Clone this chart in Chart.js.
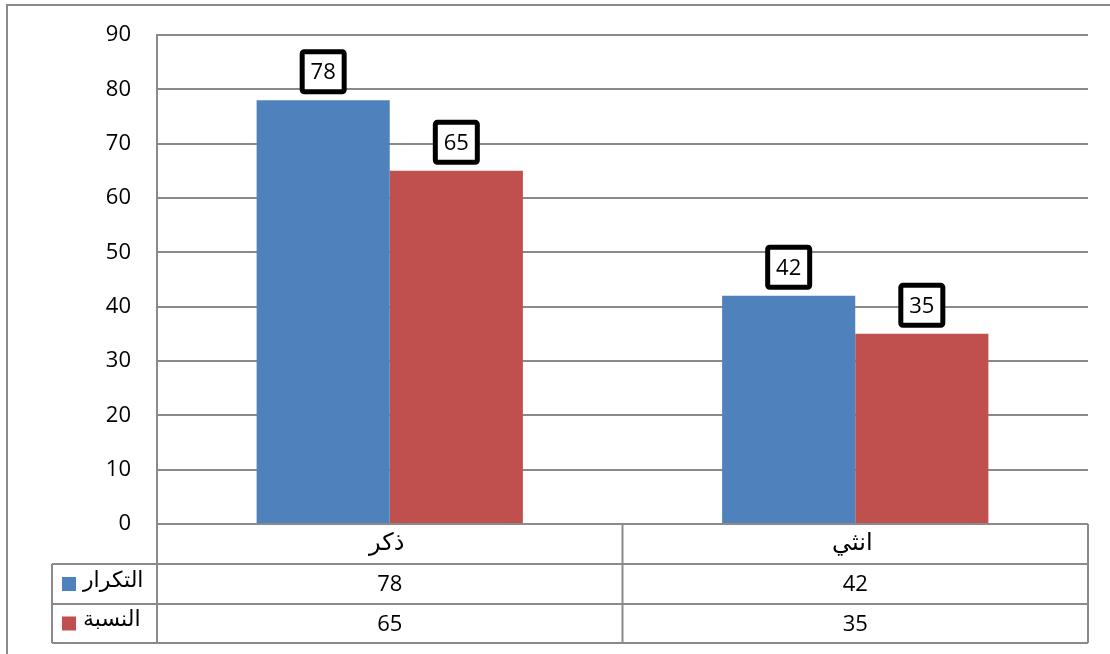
<!DOCTYPE html>
<html>
<head>
<meta charset="utf-8">
<script src="https://cdn.jsdelivr.net/npm/chart.js@4/dist/chart.umd.min.js"></script>
<style>
  html, body { margin: 0; padding: 0; background: #ffffff; }
  canvas { display: block; }
</style>
</head>
<body>
<canvas id="chart" width="1110" height="654"></canvas>
<script>
// Categories, series and axis ticks
const categories = ['ذكر', 'انثي'];
const seriesNames = ['التكرار', 'النسبة'];
const frequency = [78, 42];
const percentage = [65, 35];
const yTicks = [0, 10, 20, 30, 40, 50, 60, 70, 80, 90];

const BLUE = '#4F81BD';
const RED = '#C0504D';
const GRID = '#8a8a8a';
const FONT = "'Open Sans', 'DejaVu Sans', sans-serif";
const FONT_SIZE = 22;
const AR_FONT = "'DejaVu Sans', sans-serif";

// Table rows under the plot: category row, then one row per series
const tableRows = [40, 40, 39];
const legendLeft = 52;

// Boxed value labels above each bar
const boxedLabels = {
  id: 'boxedLabels',
  afterDatasetsDraw(chart) {
    const ctx = chart.ctx;
    ctx.save();
    chart.data.datasets.forEach((ds, di) => {
      const meta = chart.getDatasetMeta(di);
      meta.data.forEach((bar, i) => {
        const w = 47, h = 45;
        const cx = bar.x;
        const bottom = bar.y - 6;
        const x = cx - w / 2, y = bottom - h;
        ctx.beginPath();
        ctx.roundRect(x + 2.5, y + 2.5, w - 5, h - 5, 2);
        ctx.fillStyle = '#ffffff';
        ctx.fill();
        ctx.lineWidth = 5;
        ctx.strokeStyle = '#000000';
        ctx.stroke();
        ctx.fillStyle = '#000000';
        ctx.font = FONT_SIZE + 'px ' + FONT;
        ctx.textAlign = 'center';
        ctx.textBaseline = 'middle';
        ctx.fillText(String(ds.data[i]), cx, y + h / 2 + 1);
      });
    });
    ctx.restore();
  }
};

// Data table below the plot, plus the outer frame
const dataTable = {
  id: 'dataTable',
  afterDraw(chart) {
    const ctx = chart.ctx;
    const area = chart.chartArea;
    const xs = chart.scales.x;
    const left = area.left, right = area.right;
    const r0 = area.bottom;
    const r1 = r0 + tableRows[0];
    const r2 = r1 + tableRows[1];
    const r3 = r2 + tableRows[2];
    // boundaries between categories
    const bounds = [left];
    for (let i = 0; i < categories.length - 1; i++) {
      bounds.push((xs.getPixelForValue(i) + xs.getPixelForValue(i + 1)) / 2);
    }
    bounds.push(right);

    ctx.save();
    ctx.strokeStyle = GRID;
    ctx.lineWidth = 2;
    const line = (x1, y1, x2, y2) => {
      ctx.beginPath(); ctx.moveTo(x1, y1); ctx.lineTo(x2, y2); ctx.stroke();
    };
    line(left, r0, right, r0);
    [r1, r2, r3].forEach(y => line(legendLeft, y, right, y));
    line(left, area.top, left, r3);
    line(legendLeft, r1, legendLeft, r3);
    bounds.slice(1).forEach(x => line(x, r0, x, r3));

    ctx.fillStyle = '#000000';
    ctx.textAlign = 'center';
    ctx.textBaseline = 'middle';
    const series = [frequency, percentage];
    categories.forEach((c, i) => {
      const cx = (bounds[i] + bounds[i + 1]) / 2;
      ctx.font = '24px ' + AR_FONT;
      ctx.fillText(c, cx - 3, (r0 + r1) / 2);
      ctx.font = FONT_SIZE + 'px ' + FONT;
      ctx.fillText(String(series[0][i]), cx, (r1 + r2) / 2 + 1);
      ctx.fillText(String(series[1][i]), cx, (r2 + r3) / 2 + 1);
    });

    // series keys in the left column
    const colors = [BLUE, RED];
    const rowMid = [(r1 + r2) / 2, (r2 + r3) / 2];
    seriesNames.forEach((name, i) => {
      ctx.fillStyle = colors[i];
      ctx.fillRect(62, rowMid[i] - 7, 14, 14);
      ctx.fillStyle = '#000000';
      ctx.font = '22px ' + AR_FONT;
      ctx.textAlign = 'left';
      ctx.fillText(name, 83, rowMid[i] - 3);
    });

    // outer frame
    ctx.strokeStyle = GRID;
    ctx.lineWidth = 2;
    ctx.strokeRect(7, 5, 1200, 700);
    ctx.restore();
  }
};

new Chart(document.getElementById('chart'), {
  type: 'bar',
  data: {
    labels: categories,
    datasets: [
      { label: seriesNames[0], data: frequency, backgroundColor: BLUE },
      { label: seriesNames[1], data: percentage, backgroundColor: RED }
    ]
  },
  options: {
    responsive: false,
    animation: false,
    devicePixelRatio: 1,
    layout: { padding: { left: 0, right: 22, top: 35, bottom: 130 } },
    datasets: { bar: { barPercentage: 1, categoryPercentage: 0.572 } },
    plugins: {
      legend: { display: false },
      tooltip: { enabled: false }
    },
    scales: {
      x: { display: false },
      y: {
        min: yTicks[0],
        max: yTicks[yTicks.length - 1],
        afterBuildTicks(scale) { scale.ticks = yTicks.map(v => ({ value: v })); },
        afterFit(scale) {
          scale.width = 157;
          scale.paddingTop = 0;
          scale.paddingBottom = 0;
        },
        grid: { color: GRID, lineWidth: 2, drawTicks: false },
        border: { display: true, color: GRID, width: 2 },
        ticks: {
          padding: 26,
          color: '#000000',
          font: { family: FONT, size: FONT_SIZE }
        }
      }
    }
  },
  plugins: [boxedLabels, dataTable]
});
</script>
</body>
</html>
